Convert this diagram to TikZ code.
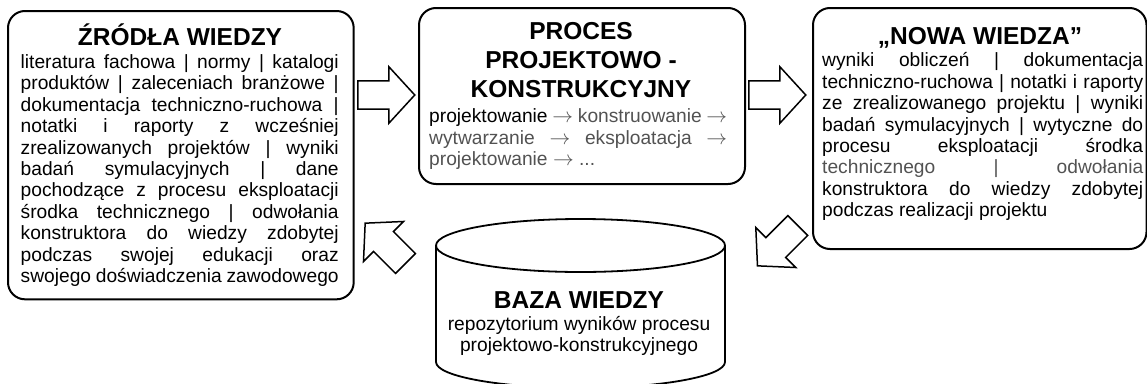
\documentclass[tikz,border=0pt]{standalone}
\usepackage{fontspec}
\setmainfont{Liberation Sans}
\usetikzlibrary{shapes.arrows}
\begin{document}
\begin{tikzpicture}[x=1pt,y=-1pt,
  box/.style={draw,line width=2pt,rounded corners=17pt,inner sep=0pt,anchor=north west},
  ttl/.style={font=\bfseries\fontsize{24.5}{29}\selectfont,inner sep=0pt,anchor=base,align=center},
  bodytxt/.style={font=\fontsize{19.2}{21.45}\selectfont,inner sep=0pt,anchor=north west,align=justify},
  ctxt/.style={font=\fontsize{19.2}{21.6}\selectfont,inner sep=0pt,anchor=base,align=center},
  blockarrow/.style={draw,line width=1.5pt,single arrow,single arrow tip angle=95,
    inner xsep=0pt,inner ysep=13.3pt,single arrow head extend=14.2pt,
    minimum height=57pt,anchor=tail}]
\newcommand{\lite}[1]{{\color{black!68}#1}}
\newcommand{\nxt}{$\rightarrow$}
\newcommand{\firstln}{\rule{0pt}{15pt}}
\useasboundingbox (0,0) rectangle (1147,383);
\clip (0,0) rectangle (1147,383);

% boxes
\node[box,minimum width=345.7pt,minimum height=288.3pt] (zrodla) at (7,10) {};
\node[box,minimum width=326pt,minimum height=176pt] (proces) at (418,7) {};
\node[box,minimum width=333.5pt,minimum height=241pt] (nowa) at (812,7) {};

% knowledge base cylinder
\coordinate (bazatop) at (580.5,245.5);
\draw[line width=1.8pt] (436,245.5) -- (436,362)
  arc[start angle=180,end angle=360,x radius=144.5pt,y radius=26pt] -- (725,245.5);
\draw[line width=1.8pt] (bazatop) ellipse[x radius=144.5pt,y radius=26.5pt];

% sources of knowledge
\node[ttl] (zrodlaT) at (180,45) {ŹRÓDŁA WIEDZY};
\node[bodytxt,text width=318pt] (zrodlaB) at (20.5,53) {\tolerance=10000\hyphenpenalty=10000
\firstln literatura fachowa | normy | katalogi\linebreak
produktów | zaleceniach branżowe |\linebreak
dokumentacja techniczno-ruchowa |\linebreak
notatki i raporty z wcześniej\linebreak
zrealizowanych projektów | wyniki\linebreak
badań symulacyjnych | dane\linebreak
pochodzące z procesu eksploatacji\linebreak
środka technicznego | odwołania\linebreak
konstruktora do wiedzy zdobytej\linebreak
podczas swojej edukacji oraz\linebreak
swojego doświadczenia zawodowego};

% design process
\node[ttl] (procesT) at (581,97) {PROCES\\PROJEKTOWO -\\KONSTRUKCYJNY};
\node[bodytxt,text width=298pt] (procesB) at (429,107.5) {\tolerance=10000\hyphenpenalty=10000
\firstln projektowanie \lite{\nxt{} konstruowanie \nxt}\linebreak
\lite{wytwarzanie \nxt{} eksploatacja \nxt}\linebreak
\lite{projektowanie \nxt{} ...}};

% new knowledge
\node[ttl] (nowaT) at (980,44.5) {„NOWA WIEDZA”};
\node[bodytxt,text width=321pt] (nowaB) at (822,51.5) {\tolerance=10000\hyphenpenalty=10000
\firstln wyniki obliczeń | dokumentacja\linebreak
techniczno-ruchowa | notatki i raporty\linebreak
ze zrealizowanego projektu | wyniki\linebreak
badań symulacyjnych | wytyczne do\linebreak
procesu eksploatacji środka\linebreak
\lite{technicznego | odwołania}\linebreak
konstruktora do wiedzy zdobytej\linebreak
podczas realizacji projektu};

% knowledge base text
\node[ttl] (bazaT) at (579,308) {BAZA WIEDZY};
\node[ctxt] (bazaB) at (579,351.7) {repozytorium wyników procesu\\projektowo-konstrukcyjnego};

% block arrows
\node[blockarrow] (a1) at (357,95) {};
\node[blockarrow] (a2) at (748,95) {};
\node[blockarrow,rotate=225] (a3) at (798.3,225) {};
\node[blockarrow,rotate=135] (a4) at (406,264) {};
\end{tikzpicture}
\end{document}
